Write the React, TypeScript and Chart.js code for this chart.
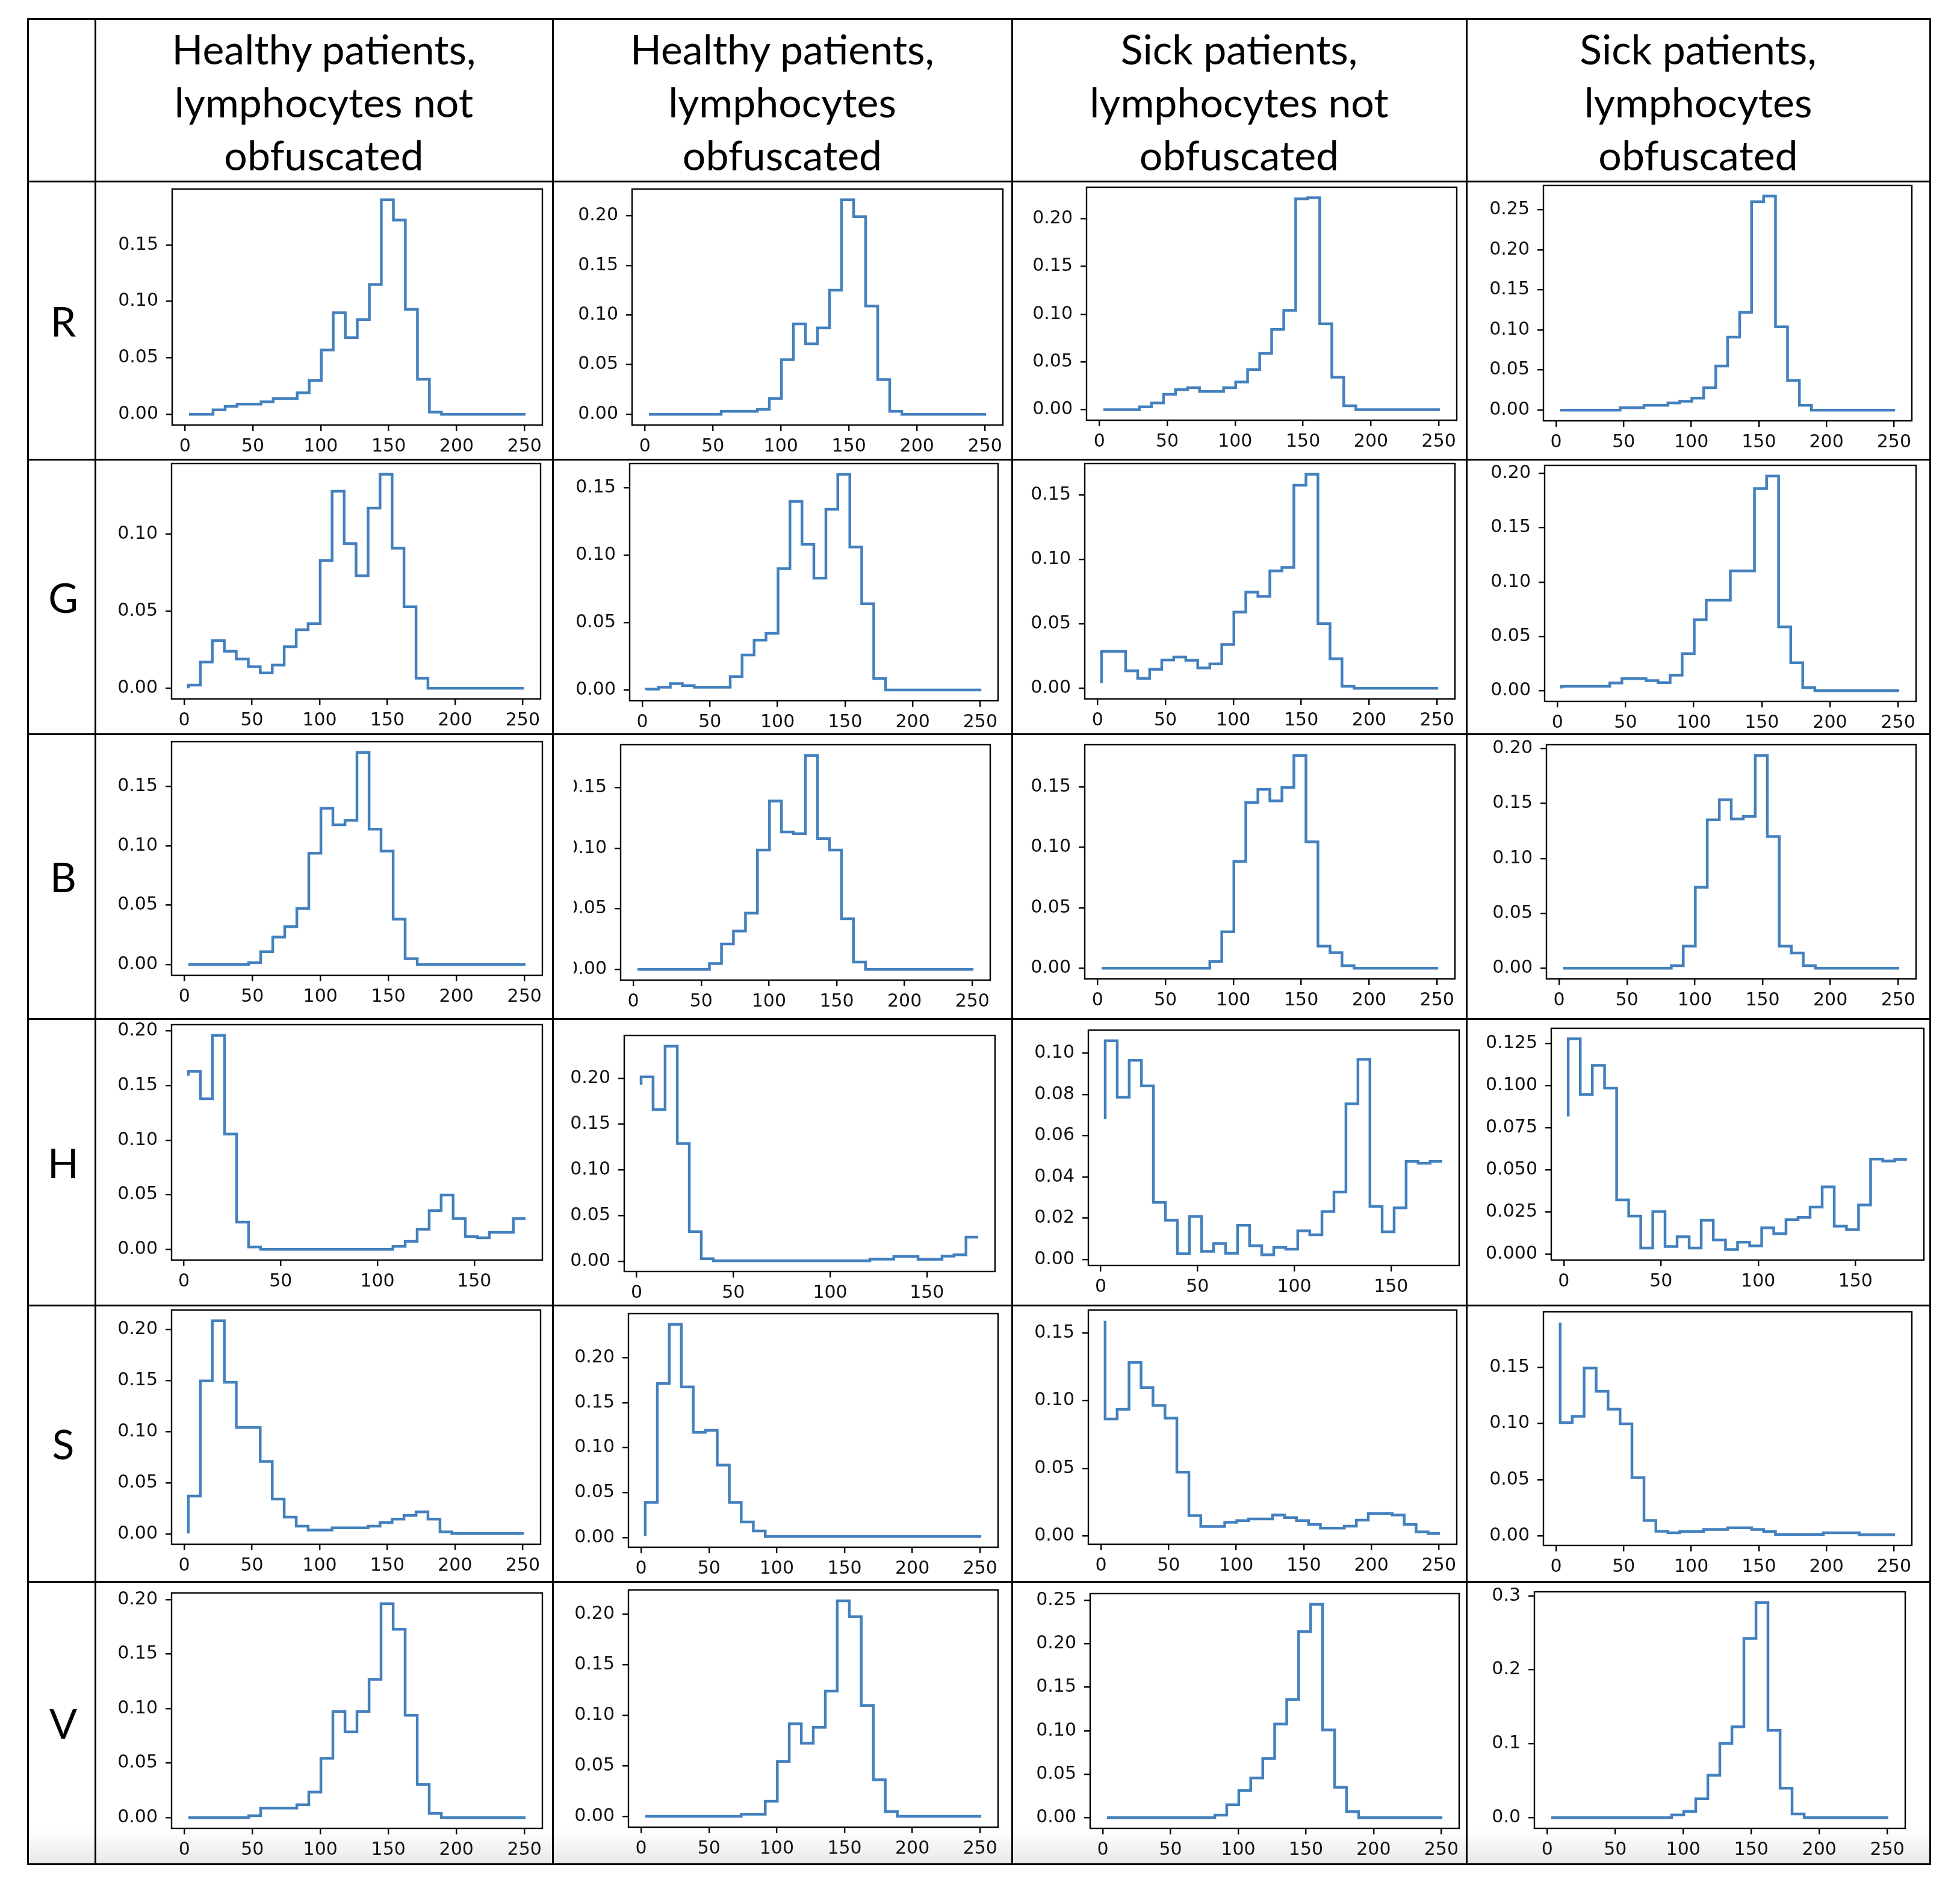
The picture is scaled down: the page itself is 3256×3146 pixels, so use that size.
import React, { useEffect, useRef } from "react";
import { Chart, registerables } from "chart.js";

Chart.register(...registerables);

// ---------- bin positions (x of each plotted point) ----------
const X_RGB = [3.0, 11.9, 20.7, 29.6, 38.4, 47.3, 56.1, 65.0, 73.8, 82.7, 91.5, 100.4, 109.2, 118.1, 126.9, 135.8, 144.6, 153.5, 162.3, 171.2, 180.0, 188.9, 197.7, 206.6, 215.4, 224.3, 233.1, 242.0, 250.8];
const X_HUE = [2.3, 8.5, 14.7, 21.0, 27.2, 33.4, 39.6, 45.8, 52.1, 58.3, 64.5, 70.7, 76.9, 83.2, 89.4, 95.6, 101.8, 108.0, 114.3, 120.5, 126.7, 132.9, 139.1, 145.4, 151.6, 157.8, 164.0, 170.2, 176.5];

const X_TICKS_RGB = ["0", "50", "100", "150", "200", "250"];
const X_TICKS_HUE = ["0", "50", "100", "150"];

// ---------- table text ----------
const COLUMN_HEADERS = [
  ["Healthy patients,", "lymphocytes not", "obfuscated"],
  ["Healthy patients,", "lymphocytes", "obfuscated"],
  ["Sick patients,", "lymphocytes not", "obfuscated"],
  ["Sick patients,", "lymphocytes", "obfuscated"],
];
const ROW_LABELS = ["R", "G", "B", "H", "S", "V"];

// ---------- series values (normalised histogram heights) ----------
const R_HEALTHY_CLEAR = [0, 0, 0, 0.004, 0.007, 0.009, 0.009, 0.011, 0.014, 0.014, 0.019, 0.030, 0.057, 0.090, 0.068, 0.084, 0.115, 0.190, 0.172, 0.093, 0.031, 0.002, 0, 0, 0, 0, 0, 0, 0];
const R_HEALTHY_OBF = [0, 0, 0, 0, 0, 0, 0, 0.003, 0.003, 0.003, 0.005, 0.016, 0.055, 0.091, 0.071, 0.087, 0.125, 0.216, 0.199, 0.109, 0.035, 0.003, 0, 0, 0, 0, 0, 0, 0];
const R_SICK_CLEAR = [0, 0, 0, 0, 0.003, 0.007, 0.016, 0.021, 0.023, 0.019, 0.019, 0.023, 0.029, 0.042, 0.059, 0.084, 0.104, 0.221, 0.222, 0.090, 0.034, 0.004, 0, 0, 0, 0, 0, 0, 0];
const R_SICK_OBF = [0, 0, 0, 0, 0, 0, 0.003, 0.003, 0.006, 0.006, 0.009, 0.011, 0.015, 0.028, 0.055, 0.091, 0.122, 0.260, 0.267, 0.104, 0.037, 0.006, 0, 0, 0, 0, 0, 0, 0];

const G_HEALTHY_CLEAR = [0, 0.002, 0.017, 0.031, 0.024, 0.019, 0.014, 0.010, 0.015, 0.027, 0.038, 0.042, 0.083, 0.128, 0.094, 0.073, 0.117, 0.139, 0.091, 0.053, 0.0065, 0, 0, 0, 0, 0, 0, 0, 0];
const G_HEALTHY_OBF = [0, 0.0006, 0.002, 0.0047, 0.0033, 0.002, 0.002, 0.002, 0.010, 0.026, 0.037, 0.042, 0.090, 0.140, 0.108, 0.083, 0.134, 0.160, 0.106, 0.064, 0.0085, 0, 0, 0, 0, 0, 0, 0, 0];
const G_SICK_CLEAR = [0.004, 0.0286, 0.0286, 0.0135, 0.0077, 0.0147, 0.022, 0.0243, 0.0217, 0.0158, 0.0189, 0.034, 0.0592, 0.0747, 0.0714, 0.0912, 0.0939, 0.1578, 0.1663, 0.0503, 0.0229, 0.0015, 0, 0, 0, 0, 0, 0, 0];
const G_SICK_OBF = [0.002, 0.004, 0.004, 0.004, 0.004, 0.007, 0.011, 0.011, 0.0092, 0.0074, 0.0142, 0.034, 0.0653, 0.0833, 0.0833, 0.1103, 0.1103, 0.1862, 0.1976, 0.0588, 0.0257, 0.0028, 0, 0, 0, 0, 0, 0, 0];

const B_HEALTHY_CLEAR = [0, 0, 0, 0, 0, 0, 0.0017, 0.0109, 0.0232, 0.0319, 0.0472, 0.0937, 0.1315, 0.1176, 0.1214, 0.1785, 0.1139, 0.0954, 0.0383, 0.005, 0, 0, 0, 0, 0, 0, 0, 0, 0];
const B_HEALTHY_OBF = [0, 0, 0, 0, 0, 0, 0, 0.0048, 0.021, 0.0317, 0.0465, 0.0985, 0.139, 0.1134, 0.112, 0.1766, 0.108, 0.0985, 0.0419, 0.0061, 0, 0, 0, 0, 0, 0, 0, 0, 0];
const B_SICK_CLEAR = [0, 0, 0, 0, 0, 0, 0, 0, 0, 0, 0.0055, 0.0302, 0.0884, 0.137, 0.1478, 0.1384, 0.1495, 0.176, 0.1046, 0.0183, 0.0129, 0.0021, 0, 0, 0, 0, 0, 0, 0];
const B_SICK_OBF = [0, 0, 0, 0, 0, 0, 0, 0, 0, 0, 0.0024, 0.0202, 0.0737, 0.135, 0.1532, 0.1359, 0.138, 0.1937, 0.1199, 0.0202, 0.0138, 0.0024, 0, 0, 0, 0, 0, 0, 0];

const H_HEALTHY_CLEAR = [0.159, 0.163, 0.138, 0.196, 0.1056, 0.025, 0.0022, 0, 0, 0, 0, 0, 0, 0, 0, 0, 0, 0, 0.0027, 0.0073, 0.0183, 0.0356, 0.0497, 0.0283, 0.0119, 0.0106, 0.0155, 0.0155, 0.0283];
const H_HEALTHY_OBF = [0.193, 0.2016, 0.1658, 0.235, 0.1287, 0.0327, 0.003, 0.0008, 0.0008, 0.0008, 0.0008, 0.0008, 0.0008, 0.0008, 0.0008, 0.0008, 0.0008, 0.0008, 0.0008, 0.0008, 0.0026, 0.0026, 0.0055, 0.0055, 0.0024, 0.0024, 0.0059, 0.0074, 0.0266];
const H_SICK_CLEAR = [0.068, 0.1061, 0.0787, 0.0966, 0.0842, 0.0276, 0.0189, 0.0027, 0.0208, 0.0039, 0.0077, 0.0029, 0.0165, 0.0066, 0.0022, 0.0058, 0.0049, 0.0138, 0.0119, 0.0232, 0.0327, 0.0755, 0.0971, 0.0257, 0.0134, 0.025, 0.0475, 0.0466, 0.0475];
const H_SICK_OBF = [0.0815, 0.1276, 0.0946, 0.1119, 0.0984, 0.0321, 0.0224, 0.0035, 0.0251, 0.0044, 0.0102, 0.0035, 0.0199, 0.0082, 0.0026, 0.007, 0.0047, 0.0155, 0.012, 0.0204, 0.0216, 0.0278, 0.0397, 0.0164, 0.0144, 0.029, 0.0563, 0.0551, 0.0561];

const S_HEALTHY_CLEAR = [0.0005, 0.0371, 0.1496, 0.2084, 0.1482, 0.1042, 0.1042, 0.071, 0.0342, 0.0166, 0.0078, 0.0039, 0.0039, 0.0061, 0.0061, 0.0061, 0.0078, 0.0113, 0.0147, 0.0182, 0.0217, 0.0147, 0.0022, 0.0006, 0.0006, 0.0006, 0.0006, 0.0006, 0.0006];
const S_HEALTHY_OBF = [0.0015, 0.039, 0.1715, 0.2375, 0.1677, 0.117, 0.1193, 0.0807, 0.039, 0.0172, 0.0071, 0.0009, 0.0009, 0.0009, 0.0009, 0.0009, 0.0009, 0.0009, 0.0009, 0.0009, 0.0009, 0.0009, 0.0009, 0.0009, 0.0009, 0.0009, 0.0009, 0.0009, 0.0009];
const S_SICK_CLEAR = [0.159, 0.0864, 0.0935, 0.1281, 0.1097, 0.0964, 0.0871, 0.0472, 0.0152, 0.0071, 0.0071, 0.0103, 0.0115, 0.0127, 0.0127, 0.0156, 0.0137, 0.0115, 0.0086, 0.0059, 0.0059, 0.0074, 0.0118, 0.0167, 0.0167, 0.0156, 0.0086, 0.0031, 0.0019];
const S_SICK_OBF = [0.19, 0.1008, 0.1065, 0.1494, 0.1287, 0.1127, 0.0998, 0.0518, 0.0137, 0.0041, 0.0027, 0.0039, 0.0039, 0.0057, 0.0057, 0.0071, 0.0071, 0.0057, 0.0039, 0.0012, 0.0012, 0.0012, 0.0012, 0.0027, 0.0027, 0.0027, 0.0009, 0.0009, 0.0009];

const V_HEALTHY_CLEAR = [0, 0, 0, 0, 0, 0, 0.0018, 0.0088, 0.0088, 0.0088, 0.0119, 0.0234, 0.0545, 0.0975, 0.0787, 0.0975, 0.1268, 0.1963, 0.1729, 0.0939, 0.0304, 0.0038, 0, 0, 0, 0, 0, 0, 0];
const V_HEALTHY_OBF = [0, 0, 0, 0, 0, 0, 0, 0, 0, 0.0022, 0.0022, 0.0149, 0.0545, 0.0917, 0.0725, 0.0881, 0.124, 0.2135, 0.1976, 0.1099, 0.0362, 0.0046, 0, 0, 0, 0, 0, 0, 0];
const V_SICK_CLEAR = [0, 0, 0, 0, 0, 0, 0, 0, 0, 0, 0.003, 0.0149, 0.0311, 0.0457, 0.0682, 0.1077, 0.1361, 0.2139, 0.2454, 0.1009, 0.035, 0.0069, 0, 0, 0, 0, 0, 0, 0];
const V_SICK_OBF = [0, 0, 0, 0, 0, 0, 0, 0, 0, 0, 0, 0.0035, 0.0084, 0.0256, 0.0574, 0.1005, 0.1229, 0.2426, 0.2911, 0.1181, 0.0399, 0.0049, 0, 0, 0, 0, 0, 0, 0];

// ---------- y tick labels ----------
const YT_010 = ["0.00", "0.05", "0.10"];
const YT_015 = ["0.00", "0.05", "0.10", "0.15"];
const YT_020 = ["0.00", "0.05", "0.10", "0.15", "0.20"];
const YT_025 = ["0.00", "0.05", "0.10", "0.15", "0.20", "0.25"];
const YT_H_SICK_CLEAR = ["0.00", "0.02", "0.04", "0.06", "0.08", "0.10"];
const YT_H_SICK_OBF = ["0.000", "0.025", "0.050", "0.075", "0.100", "0.125"];
const YT_V_SICK_OBF = ["0.0", "0.1", "0.2", "0.3"];

// ---------- grid of panels: [values, y tick labels] ----------
const PANEL_DATA: [number[], string[]][][] = [
  [[R_HEALTHY_CLEAR, YT_015], [R_HEALTHY_OBF, YT_020], [R_SICK_CLEAR, YT_020], [R_SICK_OBF, YT_025]],
  [[G_HEALTHY_CLEAR, YT_010], [G_HEALTHY_OBF, YT_015], [G_SICK_CLEAR, YT_015], [G_SICK_OBF, YT_020]],
  [[B_HEALTHY_CLEAR, YT_015], [B_HEALTHY_OBF, YT_015], [B_SICK_CLEAR, YT_015], [B_SICK_OBF, YT_020]],
  [[H_HEALTHY_CLEAR, YT_020], [H_HEALTHY_OBF, YT_020], [H_SICK_CLEAR, YT_H_SICK_CLEAR], [H_SICK_OBF, YT_H_SICK_OBF]],
  [[S_HEALTHY_CLEAR, YT_020], [S_HEALTHY_OBF, YT_020], [S_SICK_CLEAR, YT_015], [S_SICK_OBF, YT_015]],
  [[V_HEALTHY_CLEAR, YT_020], [V_HEALTHY_OBF, YT_020], [V_SICK_CLEAR, YT_025], [V_SICK_OBF, YT_V_SICK_OBF]],
];

// ---------- layout (page pixels) ----------
const TABLE_X = [46, 158, 918, 1681, 2436, 3206];
const TABLE_Y = [31, 301, 763, 1219, 1692, 2168, 2627, 3096];
// axes box of each panel: [left, top, right, bottom]
const AXES_RECTS: number[][][] = [
  [[286, 313, 901, 706], [1050, 313, 1666, 706], [1805, 310, 2420, 698], [2564, 307, 3176, 699]],
  [[285, 769, 898, 1161], [1046, 769, 1658, 1164], [1802, 769, 2417, 1161], [2566, 772, 3183, 1165]],
  [[285, 1231, 901, 1620], [1031, 1236, 1645, 1628], [1802, 1236, 2417, 1626], [2569, 1236, 3183, 1626]],
  [[285, 1701, 901, 2093], [1037, 1719, 1653, 2112], [1808, 1710, 2424, 2102], [2577, 1707, 3196, 2093]],
  [[285, 2175, 898, 2565], [1044, 2181, 1658, 2570], [1808, 2175, 2420, 2565], [2564, 2178, 3176, 2567]],
  [[285, 2645, 901, 3037], [1044, 2640, 1658, 3035], [1811, 2646, 2424, 3037], [2549, 2643, 3165, 3037]],
];
const CLIP_LEFT: Record<string, number> = { "2-1": 953 };

const LINE_COLOR = "#4380be";
const TICK_FONT = { family: "DejaVu Sans", size: 30 };
const PAD_L = 150, PAD_T = 30, PAD_R = 40, PAD_B = 72;

const framePlugin = {
  id: "frame",
  afterDraw(chart: any) {
    const { ctx, chartArea: a } = chart;
    ctx.save();
    ctx.strokeStyle = "#000";
    ctx.lineWidth = 2.4;
    ctx.strokeRect(a.left, a.top, a.right - a.left, a.bottom - a.top);
    ctx.restore();
  },
};

function Panel(props: { row: number; col: number }) {
  const { row, col } = props;
  const ref = useRef<HTMLCanvasElement | null>(null);
  const [l, t, r, b] = AXES_RECTS[row][col];
  const ys = PANEL_DATA[row][col][0];
  const yTicks = PANEL_DATA[row][col][1];
  const xs = row === 3 ? X_HUE : X_RGB;
  const xTicks = row === 3 ? X_TICKS_HUE : X_TICKS_RGB;
  const w = r - l + PAD_L + PAD_R;
  const h = b - t + PAD_T + PAD_B;
  const canvasLeft = l - PAD_L;
  const clip = CLIP_LEFT[`${row}-${col}`];
  const wrapLeft = clip !== undefined ? clip : canvasLeft;

  useEffect(() => {
    if (!ref.current) return;
    const xmin = Math.min(...xs), xmax = Math.max(...xs);
    const xm = (xmax - xmin) * 0.05;
    const ymin = Math.min(...ys), ymax = Math.max(...ys);
    const ym = (ymax - ymin) * 0.05;
    const chart = new Chart(ref.current, {
      type: "line",
      data: {
        datasets: [
          {
            data: xs.map((x, i) => ({ x, y: ys[i] })),
            borderColor: LINE_COLOR,
            borderWidth: 4.5,
            pointRadius: 0,
            stepped: "after",
            fill: false,
            tension: 0,
          },
        ],
      },
      options: {
        animation: false,
        responsive: false,
        maintainAspectRatio: false,
        devicePixelRatio: 1,
        events: [],
        layout: { padding: { left: 0, top: PAD_T, right: PAD_R, bottom: 0 } },
        plugins: { legend: { display: false }, tooltip: { enabled: false } },
        scales: {
          x: {
            type: "linear",
            min: xmin - xm,
            max: xmax + xm,
            bounds: "data",
            afterBuildTicks: (s: any) => {
              s.ticks = xTicks.map((v) => ({ value: Number(v) }));
            },
            afterFit: (s: any) => {
              s.height = PAD_B;
            },
            ticks: {
              callback: (_v: any, i: number) => xTicks[i],
              autoSkip: false,
              maxRotation: 0,
              minRotation: 0,
              padding: 8,
              color: "#111",
              font: TICK_FONT,
            },
            grid: { drawOnChartArea: false, drawTicks: true, tickLength: 10, color: "#000", lineWidth: 2.4 },
            border: { display: false },
          },
          y: {
            type: "linear",
            min: ymin - ym,
            max: ymax + ym,
            bounds: "data",
            afterBuildTicks: (s: any) => {
              s.ticks = yTicks.map((v) => ({ value: Number(v) }));
            },
            afterFit: (s: any) => {
              s.width = PAD_L;
            },
            ticks: {
              callback: (_v: any, i: number) => yTicks[i],
              autoSkip: false,
              padding: 13,
              color: "#111",
              font: TICK_FONT,
            },
            grid: { drawOnChartArea: false, drawTicks: true, tickLength: 10, color: "#000", lineWidth: 2.4 },
            border: { display: false },
          },
        },
      } as any,
      plugins: [framePlugin],
    });
    return () => chart.destroy();
  }, []);

  return (
    <div
      style={{
        position: "absolute",
        left: wrapLeft,
        top: t - PAD_T,
        width: canvasLeft + w - wrapLeft,
        height: h,
        overflow: "hidden",
      }}
    >
      <canvas
        ref={ref}
        width={w}
        height={h}
        style={{ position: "absolute", left: canvasLeft - wrapLeft, top: 0, width: w, height: h }}
      />
    </div>
  );
}

export default function App() {
  const lineW = 3;
  const tableLeft = TABLE_X[0];
  const tableRight = TABLE_X[TABLE_X.length - 1];
  const tableTop = TABLE_Y[0];
  const tableBottom = TABLE_Y[TABLE_Y.length - 1];
  const textFont = "Lato, 'Open Sans', sans-serif";

  return (
    <div style={{ position: "absolute", left: 0, top: 0, width: 3256, height: 3146, background: "#fff", overflow: "hidden" }}>
      {/* bottom shading of last row */}
      <div
        style={{
          position: "absolute",
          left: tableLeft,
          top: tableBottom - 56,
          width: tableRight - tableLeft,
          height: 56,
          background: "linear-gradient(to bottom, rgba(235,235,235,0), rgba(232,232,232,1))",
        }}
      />
      {/* column headers */}
      {COLUMN_HEADERS.map((lines, c) => (
        <div
          key={"h" + c}
          style={{
            position: "absolute",
            left: TABLE_X[c + 1],
            top: TABLE_Y[0],
            width: TABLE_X[c + 2] - TABLE_X[c + 1],
            height: TABLE_Y[1] - TABLE_Y[0],
            display: "flex",
            flexDirection: "column",
            alignItems: "center",
            justifyContent: "center",
            paddingTop: 6,
            boxSizing: "border-box",
            fontFamily: textFont,
            fontSize: 68,
            lineHeight: "88px",
            color: "#000",
            textAlign: "center",
          }}
        >
          {lines.map((ln, i) => (
            <div key={i}>{ln}</div>
          ))}
        </div>
      ))}
      {/* row labels */}
      {ROW_LABELS.map((lab, r) => (
        <div
          key={"r" + r}
          style={{
            position: "absolute",
            left: TABLE_X[0] + 3,
            top: TABLE_Y[r + 1],
            width: TABLE_X[1] - TABLE_X[0],
            height: TABLE_Y[r + 2] - TABLE_Y[r + 1],
            display: "flex",
            alignItems: "center",
            justifyContent: "center",
            fontFamily: textFont,
            fontSize: 68,
            color: "#000",
          }}
        >
          {lab}
        </div>
      ))}
      {/* charts */}
      {PANEL_DATA.map((rowArr, r) =>
        rowArr.map((_p, c) => <Panel key={`${r}-${c}`} row={r} col={c} />)
      )}
      {/* table grid lines */}
      {TABLE_X.map((x, i) => (
        <div
          key={"vx" + i}
          style={{
            position: "absolute",
            left: x - lineW / 2,
            top: tableTop - lineW / 2,
            width: lineW,
            height: tableBottom - tableTop + lineW,
            background: "#000",
          }}
        />
      ))}
      {TABLE_Y.map((y, i) => (
        <div
          key={"hy" + i}
          style={{
            position: "absolute",
            left: tableLeft - lineW / 2,
            top: y - lineW / 2,
            width: tableRight - tableLeft + lineW,
            height: lineW,
            background: "#000",
          }}
        />
      ))}
    </div>
  );
}
